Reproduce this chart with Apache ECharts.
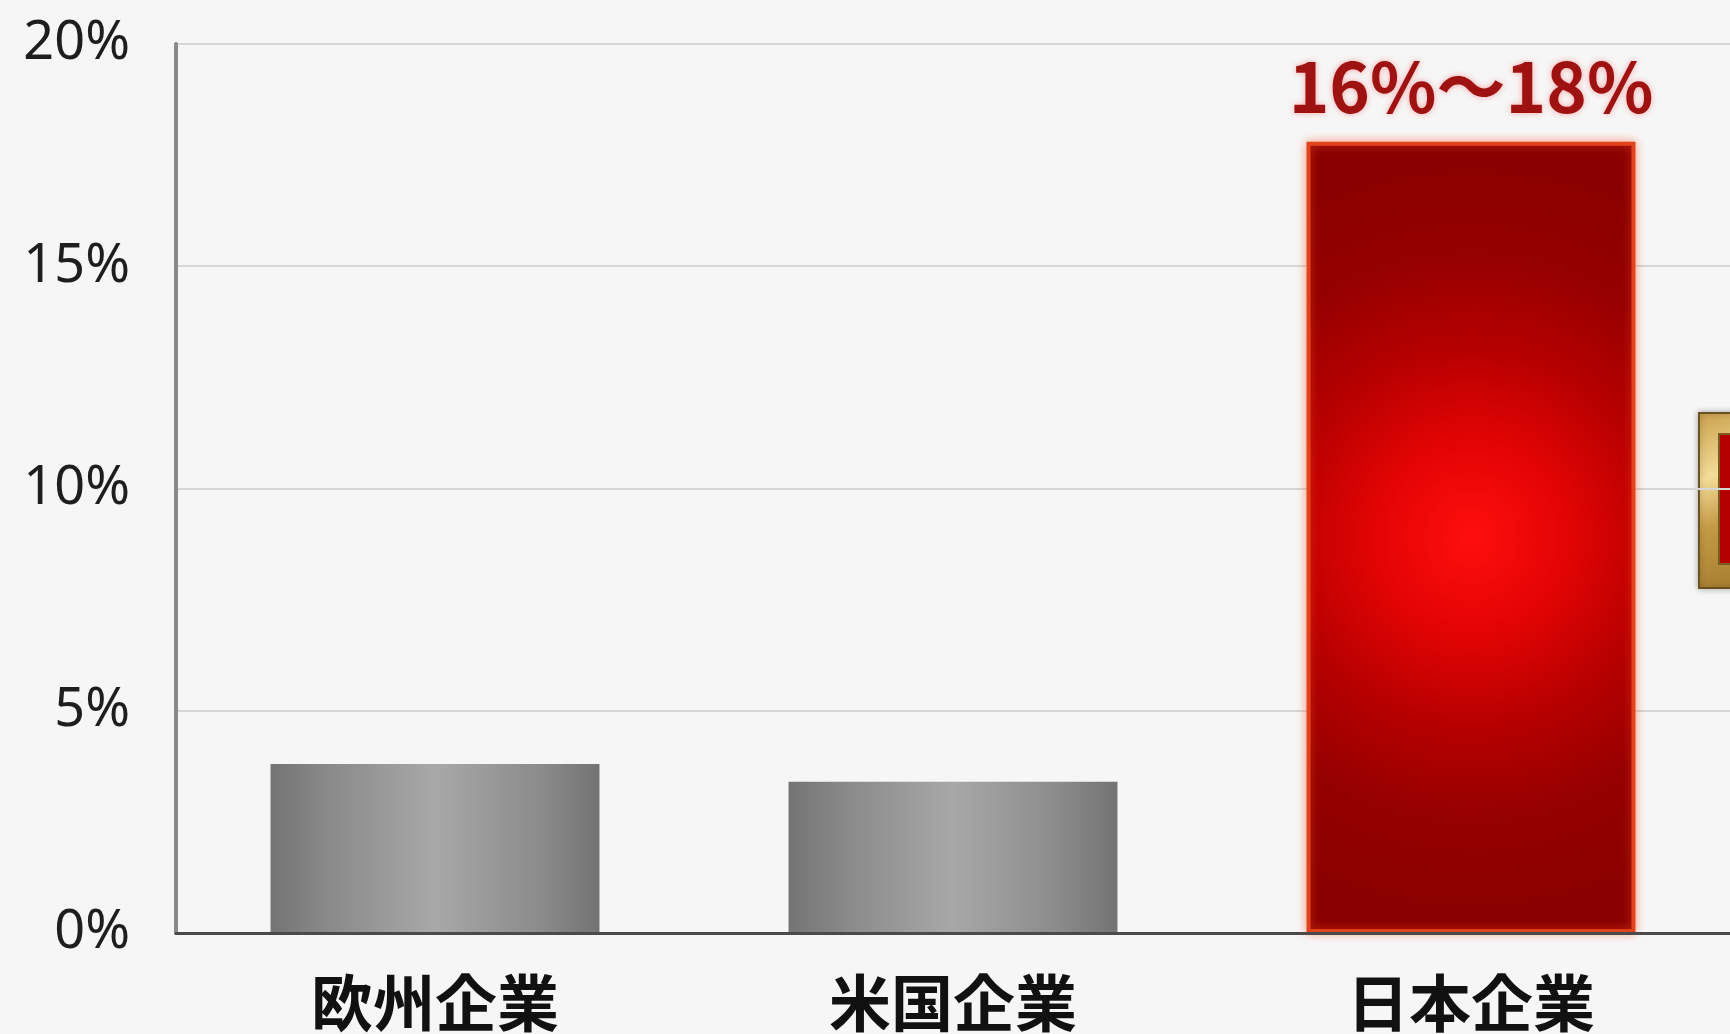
<!DOCTYPE html>
<html>
<head>
<meta charset="utf-8">
<script src="https://cdn.jsdelivr.net/npm/echarts@6/dist/echarts.min.js"></script>
<style>
  html, body { margin: 0; padding: 0; background: #f6f6f6; }
  #chart { width: 1730px; height: 1034px; }
</style>
</head>
<body>
<div id="chart"></div>
<script>
// ---- data ----
const categories = ['欧州企業', '米国企業', '日本企業'];
const values = [3.8, 3.4, 17.8];
const valueLabels = ['', '', '16%〜18%'];
const yTicks = [0, 5, 10, 15, 20];

const grayFill = {
  type: 'linear', x: 0, y: 0, x2: 1, y2: 0,
  colorStops: [
    { offset: 0, color: '#747474' },
    { offset: 0.18, color: '#8a8a8a' },
    { offset: 0.5, color: '#a8a8a8' },
    { offset: 0.82, color: '#8b8b8b' },
    { offset: 1, color: '#737373' }
  ]
};
const redFill = {
  type: 'radial', x: 0.5, y: 0.5, r: 1.15,
  colorStops: [
    { offset: 0, color: '#ff0e0e' },
    { offset: 0.25, color: '#e40404' },
    { offset: 0.5, color: '#b60000' },
    { offset: 0.75, color: '#950000' },
    { offset: 1, color: '#8a0000' }
  ]
};

const seriesData = values.map((v, i) => {
  const isJapan = i === 2;
  return {
    value: v,
    itemStyle: isJapan ? {
      color: redFill,
      borderColor: '#e2431c',
      borderWidth: 4,
      shadowColor: 'rgba(255,90,40,0.55)',
      shadowBlur: 10
    } : {
      color: grayFill,
      borderWidth: 0
    },
    label: {
      show: valueLabels[i] !== '',
      formatter: () => valueLabels[i]
    }
  };
});

const chart = echarts.init(document.getElementById('chart'));
chart.setOption({
  backgroundColor: '#f6f6f6',
  animation: false,
  grid: { left: 176, top: 44, width: 1582, height: 889, containLabel: false },
  xAxis: {
    type: 'category',
    data: categories,
    axisLine: { show: true, lineStyle: { color: '#4a4a4a', width: 3 } },
    axisTick: { show: false },
    axisLabel: {
      margin: 39,
      fontSize: 62,
      fontWeight: 'bold',
      color: '#111111',
      fontFamily: 'Noto Sans CJK JP'
    },
    z: 5
  },
  yAxis: {
    type: 'value',
    min: yTicks[0],
    max: yTicks[yTicks.length - 1],
    interval: yTicks[1] - yTicks[0],
    axisLine: { show: true, lineStyle: { color: '#8a8a8a', width: 4 } },
    axisTick: { show: false },
    splitLine: { show: true, lineStyle: { color: '#d6d6d6', width: 2 } },
    axisLabel: {
      margin: 46,
      fontSize: 54,
      color: '#1e1e1e',
      fontFamily: 'Noto Sans',
      formatter: v => v + '%'
    }
  },
  series: [{
    type: 'bar',
    data: seriesData,
    barWidth: '63.5%',
    label: {
      position: 'top',
      distance: 21,
      fontSize: 69,
      fontWeight: 'bold',
      color: '#9e1212',
      fontFamily: 'Noto Sans CJK JP',
      textShadowColor: 'rgba(255,110,110,0.6)',
      textShadowBlur: 6
    }
  }],
  graphic: [{
    type: 'group',
    left: 1698,
    top: 412,
    children: [
      {
        type: 'rect',
        shape: { x: 0, y: 0, width: 60, height: 175 },
        style: {
          fill: {
            type: 'linear', x: 0, y: 0, x2: 1, y2: 1,
            colorStops: [
              { offset: 0, color: '#c9a14c' },
              { offset: 0.35, color: '#f3dc98' },
              { offset: 0.6, color: '#c49a45' },
              { offset: 1, color: '#a27a2c' }
            ]
          },
          stroke: '#6a5222',
          lineWidth: 2,
          shadowColor: 'rgba(0,0,0,0.3)',
          shadowBlur: 6
        }
      },
      {
        type: 'rect',
        shape: { x: 20, y: 21, width: 40, height: 130 },
        style: { fill: '#b40000', stroke: '#7a5c22', lineWidth: 2 }
      }
    ]
  }]
});
</script>
</body>
</html>
